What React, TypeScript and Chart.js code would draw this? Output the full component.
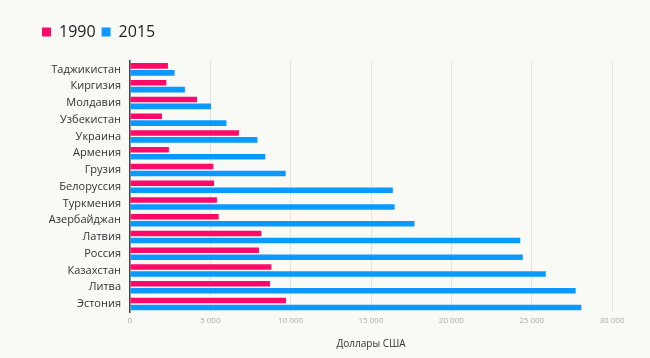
import React, { useEffect, useRef } from "react";
import { Chart, registerables } from "chart.js";

Chart.register(...registerables);

const categories = [
  "Таджикистан",
  "Киргизия",
  "Молдавия",
  "Узбекистан",
  "Украина",
  "Армения",
  "Грузия",
  "Белоруссия",
  "Туркмения",
  "Азербайджан",
  "Латвия",
  "Россия",
  "Казахстан",
  "Литва",
  "Эстония",
];

const values1990 = [2360, 2260, 4170, 1990, 6780, 2420, 5190, 5230, 5410, 5520, 8180, 8030, 8800, 8720, 9710];
const values2015 = [2780, 3420, 5040, 6000, 7930, 8420, 9690, 16360, 16470, 17710, 24290, 24450, 25880, 27740, 28090];

const seriesLabels = ["1990", "2015"];
const axisTitle = "Доллары США";
const xMax = 30000;
const xStep = 5000;

const PINK = "#ff0a6a";
const BLUE = "#0a99ff";
const BG = "#f9f9f5";

const legendSpacer = {
  id: "legendSpacer",
  beforeInit(chart: any) {
    const legend = chart.legend;
    if (!legend) return;
    const origFit = legend.fit;
    legend.fit = function () {
      origFit.call(this);
      this.height += 11;
    };
  },
};

export default function App() {
  const ref = useRef<HTMLCanvasElement | null>(null);

  useEffect(() => {
    if (!ref.current) return;
    const chart = new Chart(ref.current, {
      type: "bar",
      data: {
        labels: categories,
        datasets: [
          {
            label: seriesLabels[0],
            data: values1990,
            backgroundColor: PINK,
            borderWidth: 0,
            categoryPercentage: 0.83,
            barPercentage: 0.8,
          },
          {
            label: seriesLabels[1],
            data: values2015,
            backgroundColor: BLUE,
            borderWidth: 0,
            categoryPercentage: 0.83,
            barPercentage: 0.8,
          },
        ],
      },
      options: {
        indexAxis: "y",
        animation: false,
        responsive: true,
        maintainAspectRatio: false,
        layout: { padding: { left: 36, right: 38, top: 18, bottom: 8 } },
        plugins: {
          legend: {
            display: true,
            position: "top",
            align: "start",
            labels: {
              boxWidth: 9,
              boxHeight: 9,
              padding: 6,
              color: "#222",
              font: { family: "'Open Sans', sans-serif", size: 16 },
            },
          },
          tooltip: { enabled: false },
        },
        scales: {
          x: {
            type: "linear",
            min: 0,
            max: xMax,
            position: "bottom",
            grid: { color: "#e4e4df", lineWidth: 1, drawTicks: false },
            border: { display: false },
            ticks: {
              stepSize: xStep,
              padding: 4,
              color: "#aaaaaa",
              font: { family: "'Open Sans', sans-serif", size: 8 },
              callback: (v: any) => String(v).replace(/\B(?=(\d{3})+(?!\d))/g, " "),
            },
            title: {
              display: true,
              text: axisTitle,
              color: "#333",
              font: { family: "'Open Sans', sans-serif", size: 10, weight: "500" },
              padding: { top: 8, bottom: 0 },
            },
          },
          y: {
            type: "category",
            grid: { display: false, drawTicks: false },
            border: { display: true, color: "#444", width: 1.5 },
            ticks: {
              autoSkip: false,
              padding: 9,
              color: "#333",
              font: { family: "'Open Sans', sans-serif", size: 11 },
            },
            afterFit: (scale: any) => {
              scale.width = 94;
            },
          },
        },
      },
      plugins: [legendSpacer],
    } as any);
    return () => chart.destroy();
  }, []);

  return (
    <div
      style={{
        position: "absolute",
        left: 0,
        top: 0,
        width: 650,
        height: 358,
        background: BG,
      }}
    >
      <canvas ref={ref} />
    </div>
  );
}
